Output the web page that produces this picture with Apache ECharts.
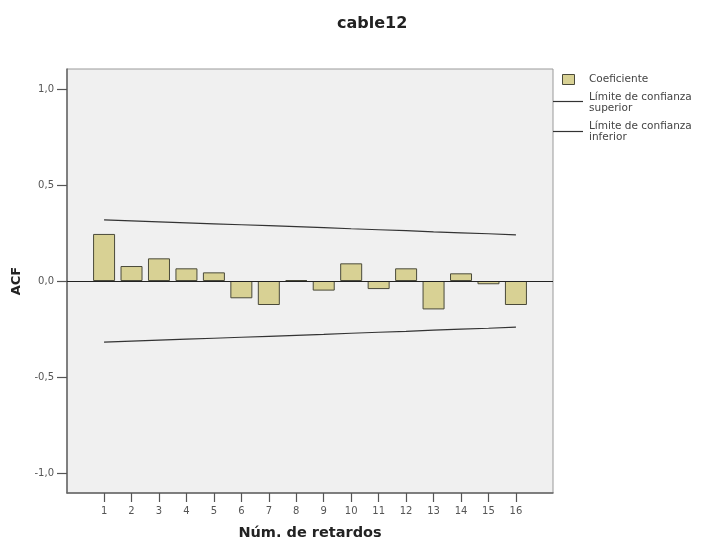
<!DOCTYPE html>
<html>
<head>
<meta charset="utf-8">
<script src="https://cdn.jsdelivr.net/npm/echarts@6/dist/echarts.min.js"></script>
<style>
  html, body { margin: 0; padding: 0; background: #ffffff; }
  #chart { width: 704px; height: 544px; }
</style>
</head>
<body>
<div id="chart"></div>
<script>
// Autocorrelation function for cable12, lags 1..16
const lags = [1, 2, 3, 4, 5, 6, 7, 8, 9, 10, 11, 12, 13, 14, 15, 16];
const acf = [0.245, 0.078, 0.118, 0.066, 0.045, -0.090, -0.125, 0.005,
             -0.050, 0.092, -0.042, 0.066, -0.148, 0.040, -0.017, -0.125];
const upperLimit = [0.318, 0.313, 0.308, 0.303, 0.298, 0.293, 0.288, 0.283,
                    0.278, 0.272, 0.267, 0.262, 0.256, 0.251, 0.246, 0.240];
const lowerLimit = [-0.318, -0.313, -0.308, -0.303, -0.298, -0.293, -0.288, -0.283,
                    -0.278, -0.272, -0.267, -0.262, -0.256, -0.251, -0.246, -0.240];
const yTicks = [-1, -0.5, 0, 0.5, 1];

const chart = echarts.init(document.getElementById('chart'), null, { renderer: 'canvas' });

const fmtComma = v => v.toFixed(1).replace('.', ',');
const pairs = arr => lags.map((l, i) => [l, arr[i]]);

const legendFont = { fontFamily: 'DejaVu Sans', fontSize: 10.5, lineHeight: 11, fill: '#444', verticalAlign: 'middle' };

const option = {
  backgroundColor: '#ffffff',
  animation: false,
  title: {
    text: 'cable12',
    left: 332,
    top: 11,
    textAlign: 'left',
    textStyle: { fontFamily: 'DejaVu Sans', fontWeight: 'bold', fontSize: 16, color: '#222' }
  },
  grid: {
    left: 67, top: 69, width: 486, height: 424,
    outerBoundsMode: 'none',
    containLabel: false,
    show: true, backgroundColor: '#f0f0f0', borderColor: '#9a9a9a', borderWidth: 1
  },
  xAxis: {
    type: 'value',
    min: -0.35, max: 17.35,
    name: 'Núm. de retardos',
    nameLocation: 'middle',
    nameGap: 33,
    nameTextStyle: { fontFamily: 'DejaVu Sans', fontWeight: 'bold', fontSize: 14.5, color: '#222' },
    axisLine: { show: true, onZero: false, lineStyle: { color: '#666', width: 1.5 } },
    axisTick: { show: true, customValues: lags, length: 9, lineStyle: { color: '#555', width: 1.2 } },
    axisLabel: { customValues: lags, fontFamily: 'DejaVu Sans', fontSize: 10, color: '#555', margin: 13 },
    splitLine: { show: false }
  },
  yAxis: {
    type: 'value',
    min: -1.104, max: 1.104,
    name: 'ACF',
    nameLocation: 'middle',
    nameGap: 42,
    nameRotate: 90,
    nameTextStyle: { fontFamily: 'DejaVu Sans', fontWeight: 'bold', fontSize: 13, color: '#222' },
    axisLine: { show: true, onZero: false, lineStyle: { color: '#666', width: 1.5 } },
    axisTick: { show: true, customValues: yTicks, length: 10, lineStyle: { color: '#555', width: 1.2 } },
    axisLabel: { customValues: yTicks, formatter: fmtComma, fontFamily: 'DejaVu Sans', fontSize: 10, color: '#555', margin: 13 },
    splitLine: { show: false }
  },
  series: [
    {
      name: 'Coeficiente',
      type: 'bar',
      data: pairs(acf),
      barWidth: 22,
      itemStyle: { color: '#d8d194', borderColor: '#4a4a3a', borderWidth: 1 },
      markLine: {
        silent: true,
        symbol: 'none',
        label: { show: false },
        lineStyle: { color: '#222', width: 1, type: 'solid' },
        data: [{ yAxis: 0 }]
      },
      z: 2
    },
    {
      name: 'Límite de confianza superior',
      type: 'line',
      data: pairs(upperLimit),
      showSymbol: false,
      lineStyle: { color: '#333', width: 1.2 },
      z: 3
    },
    {
      name: 'Límite de confianza inferior',
      type: 'line',
      data: pairs(lowerLimit),
      showSymbol: false,
      lineStyle: { color: '#333', width: 1.2 },
      z: 3
    }
  ],
  graphic: [
    // legend keys
    { type: 'rect', shape: { x: 562.5, y: 74.5, width: 12, height: 10 },
      style: { fill: '#d8d194', stroke: '#4a4a3a', lineWidth: 1 } },
    { type: 'text', x: 589, y: 79.5,
      style: Object.assign({ text: 'Coeficiente' }, legendFont) },
    { type: 'line', shape: { x1: 553, y1: 101.5, x2: 583, y2: 101.5 },
      style: { stroke: '#333', lineWidth: 1.2 } },
    { type: 'text', x: 589, y: 103,
      style: Object.assign({ text: 'Límite de confianza\nsuperior' }, legendFont) },
    { type: 'line', shape: { x1: 553, y1: 131.5, x2: 583, y2: 131.5 },
      style: { stroke: '#333', lineWidth: 1.2 } },
    { type: 'text', x: 589, y: 132,
      style: Object.assign({ text: 'Límite de confianza\ninferior' }, legendFont) }
  ]
};

chart.setOption(option);
</script>
</body>
</html>
